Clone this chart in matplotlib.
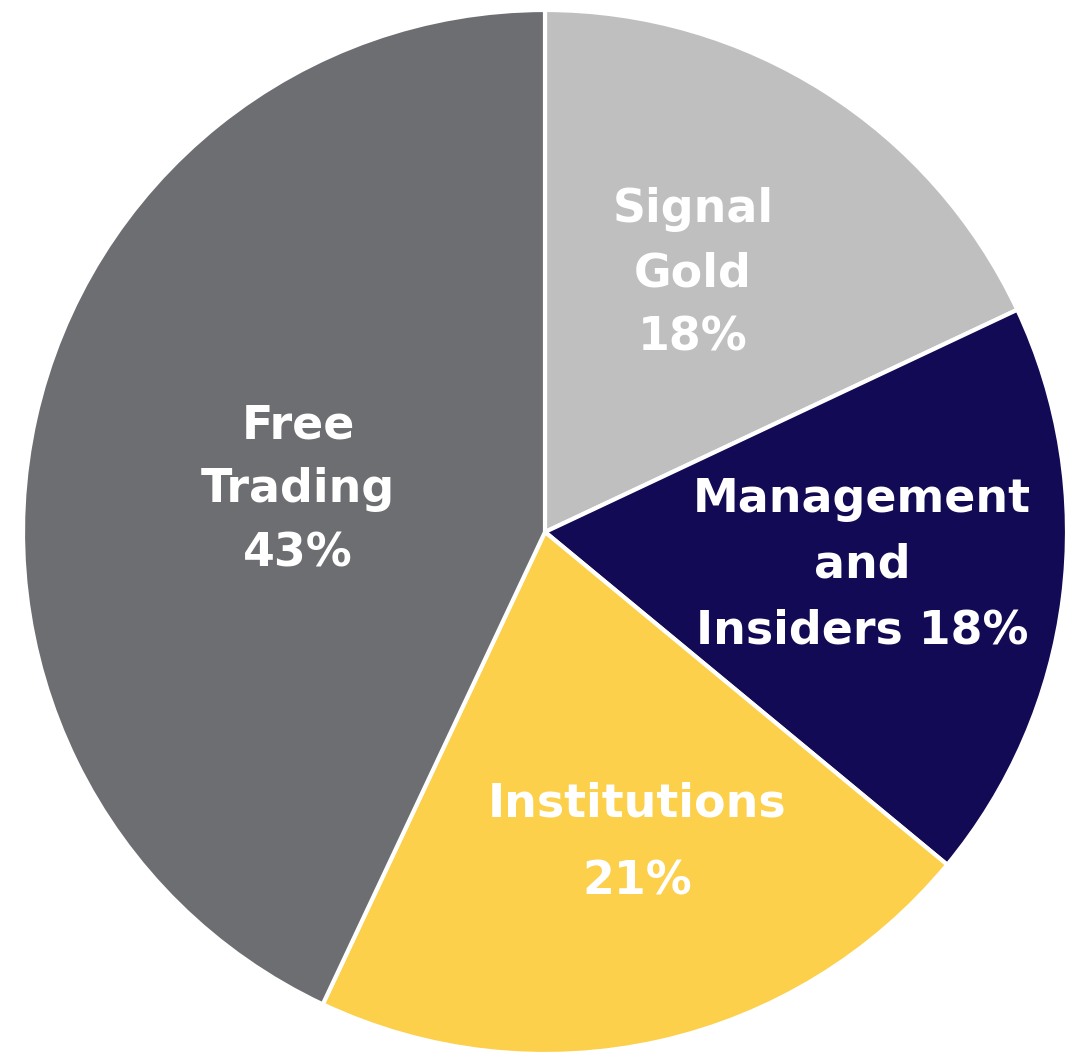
import matplotlib
matplotlib.use("Agg")
import matplotlib.pyplot as plt

plt.rcParams['font.family'] = ['DejaVu Sans']

labels = ['Signal\nGold\n18%', 'Management\nand\nInsiders 18%', 'Institutions\n21%', 'Free\nTrading\n43%']
shares = [18, 18, 21, 43]
colors = ['#BFBFBF', '#120A55', '#FCD04B', '#6D6E71']

# label positions in pixel coords (y from top) and line spacing
label_pos = [(693, 274), (862, 565), (637, 843), (298, 490)]
spacings = [1.55, 1.6, 1.95, 1.55]

W, H = 1065, 1056
fig = plt.figure(figsize=(W / 100, H / 100), dpi=100)
ax = fig.add_axes([0, 0, 1, 1])
ax.axis('off')

ax.pie(shares, colors=colors, startangle=90, counterclock=False,
       center=(545, H - 532), radius=522,
       wedgeprops=dict(edgecolor='white', linewidth=3))
ax.set_xlim(0, W)
ax.set_ylim(0, H)
ax.set_aspect('equal')

for lab, (x, y), ls in zip(labels, label_pos, spacings):
    ax.text(x, H - y, lab, ha='center', va='center', color='white',
            fontsize=33, fontweight='bold', linespacing=ls)

fig.savefig('out.png', dpi=100)
